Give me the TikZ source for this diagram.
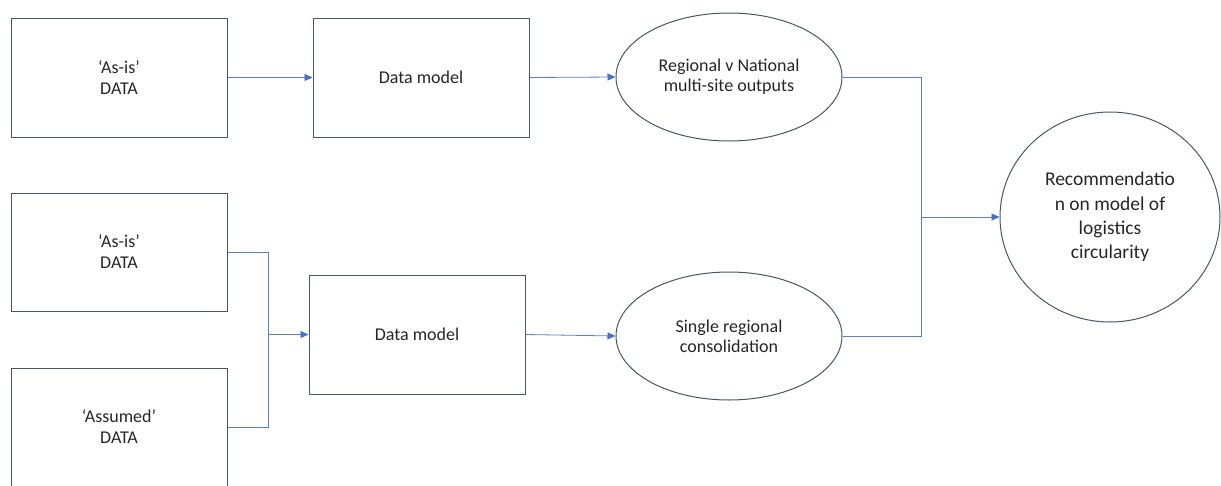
\documentclass[tikz,border=0pt]{standalone}
\usepackage{fontspec}
\setmainfont{Carlito}
\usetikzlibrary{shapes.geometric,arrows.meta}
\definecolor{boxline}{HTML}{4A5568}
\definecolor{connline}{HTML}{5B80C4}
\definecolor{tipblue}{HTML}{4472C4}
\definecolor{txt}{HTML}{262626}
\tikzset{
  databox/.style={draw=boxline, line width=1pt, rectangle, minimum width=216pt, minimum height=119pt, inner sep=0pt, align=center, text=txt, font=\fontsize{18}{21}\selectfont},
  oval/.style={draw=boxline, line width=1pt, ellipse, inner sep=0pt, align=center, text=txt, font=\fontsize{18}{20}\selectfont},
  conn/.style={draw=connline, line width=0.8pt},
  arr/.style={conn, -{Triangle[length=8pt,width=7pt,fill=tipblue,color=tipblue]}}
}
\begin{document}
\begin{tikzpicture}[x=1pt,y=-1pt]
\useasboundingbox (0,0) rectangle (1221,485);
\node[databox] (a1) at (119,77.5) {‘As-is’\\DATA};
\node[databox] (dm1) at (421,77.5) {Data model};
\node[oval, minimum width=226pt, minimum height=128pt] (r1) at (729,77) {Regional v National\\multi-site outputs};
\node[databox, minimum height=118pt] (a2) at (119,252) {‘As-is’\\DATA};
\node[databox, minimum height=118pt] (a3) at (119,427) {‘Assumed’\\DATA};
\node[databox] (dm2) at (417,334.5) {Data model};
\node[oval, minimum width=226pt, minimum height=128pt] (r2) at (729,336) {Single regional\\consolidation};
\node[oval, minimum width=220pt, minimum height=210pt, font=\fontsize{19.5}{24.3}\selectfont] (rec) at (1110,217) {Recommendatio\\n on model of\\logistics\\circularity};
\coordinate (j1) at (268,334.5);
\coordinate (j2) at (921,217);
\draw[arr] (a1.east) -- (dm1.west);
\draw[arr] (dm1.east) -- (r1.west);
\draw[conn] (a2.east) -- (a2.east -| j1) -- (j1);
\draw[conn] (a3.east) -- (a3.east -| j1) -- (j1);
\draw[arr] (j1) -- (dm2.west);
\draw[arr] (dm2.east) -- (r2.west);
\draw[conn] (r1.east) -- (r1.east -| j2) -- (j2);
\draw[conn] (r2.east) -- (r2.east -| j2) -- (j2);
\draw[arr] (j2) -- (rec.west);
\end{tikzpicture}
\end{document}
